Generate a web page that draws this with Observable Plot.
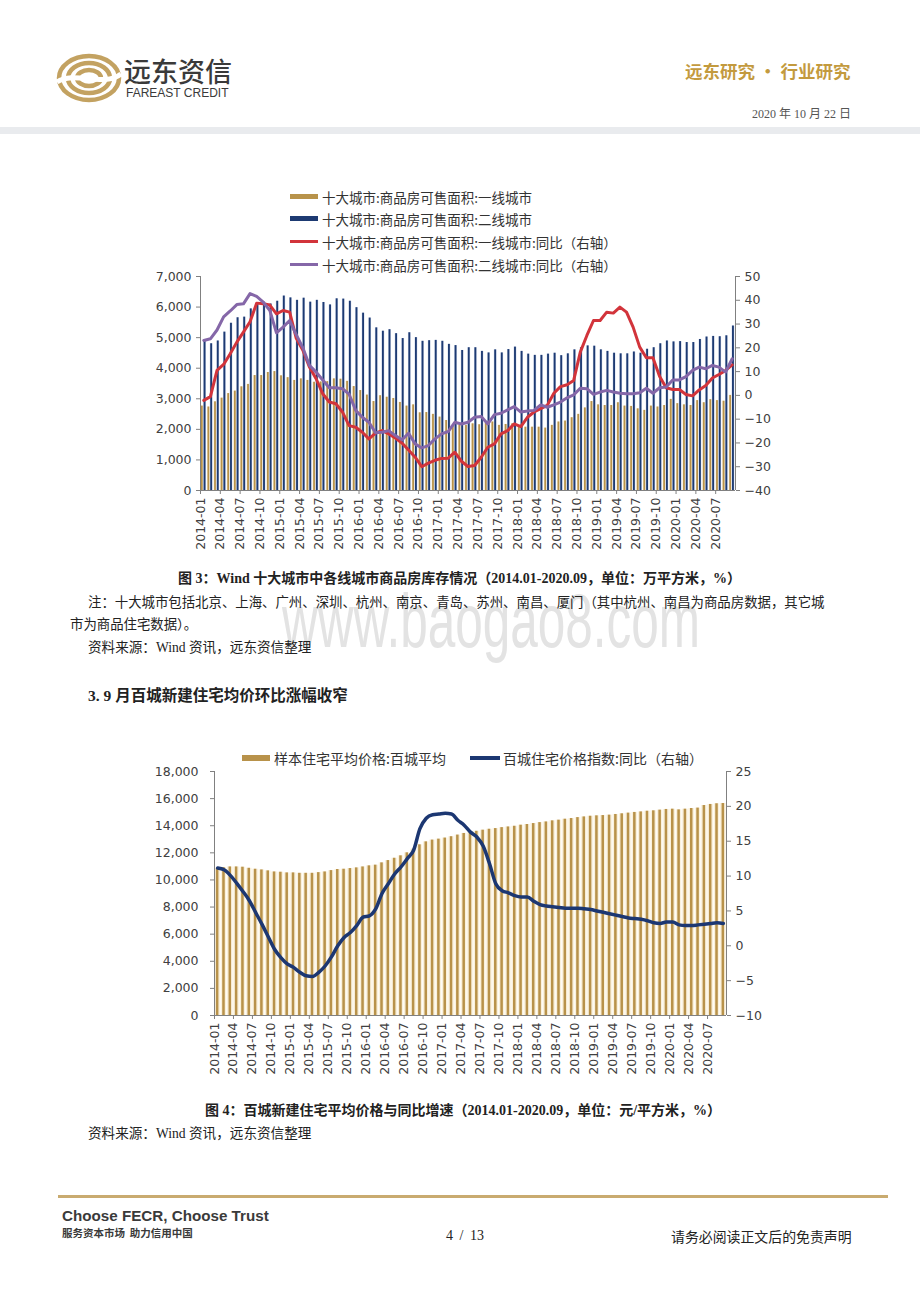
<!DOCTYPE html>
<html><head><meta charset="utf-8">
<script src="https://cdn.jsdelivr.net/npm/d3@7"></script>
<script src="https://cdn.jsdelivr.net/npm/@observablehq/plot@0.6"></script>
<style>
html,body{margin:0;padding:0;background:#fff;}
body{width:920px;height:1302px;position:relative;overflow:hidden;font-family:"Liberation Serif","Noto Sans CJK SC",serif;color:#222;}
.abs{position:absolute;white-space:nowrap;}
.cjk{font-family:"Noto Sans CJK SC","Liberation Sans",sans-serif;}
.leg{position:absolute;font-family:"Noto Sans CJK SC",sans-serif;font-size:13.5px;color:#333;line-height:16px;white-space:nowrap;}
.sw{position:absolute;}
</style></head><body>

<!-- header -->
<svg class="abs" style="left:55px;top:52px" width="70" height="52" viewBox="0 0 70 52">
  <g fill="none" stroke="#c3a261" stroke-width="4.5">
    <ellipse cx="34" cy="26" rx="30" ry="22"/>
    <ellipse cx="34" cy="26" rx="21" ry="15"/>
    <ellipse cx="34" cy="26" rx="12" ry="8"/>
  </g>
  <path d="M2 30 C 20 18, 48 36, 66 22" stroke="#fff" stroke-width="5" fill="none"/>
</svg>
<div class="abs cjk" style="left:124px;top:57px;font-size:27px;line-height:28px;color:#3a3a3a;font-weight:500">远东资信</div>
<div class="abs" style="left:126px;top:87px;font-family:'Liberation Sans',Arial,sans-serif;font-size:12px;line-height:13px;color:#3a3a3a;">FAREAST CREDIT</div>
<div class="abs cjk" style="left:685px;top:61px;font-size:17.5px;line-height:20px;color:#c39a3e;font-weight:700">远东研究 • 行业研究</div>
<div class="abs" style="left:752px;top:106px;font-size:12px;line-height:14px;color:#555;">2020 <span class="cjk">年</span> 10 <span class="cjk">月</span> 22 <span class="cjk">日</span></div>
<div class="abs" style="left:0;top:127px;width:920px;height:7px;background:#e9ebee"></div>

<!-- chart 1 legend -->
<div class="sw" style="left:290px;top:194px;width:28px;height:5px;background:#b8934a"></div>
<div class="leg" style="left:322px;top:189px">十大城市:商品房可售面积:一线城市</div>
<div class="sw" style="left:290px;top:216px;width:28px;height:5px;background:#1d3a72"></div>
<div class="leg" style="left:322px;top:211px">十大城市:商品房可售面积:二线城市</div>
<div class="sw" style="left:290px;top:240px;width:28px;height:3px;background:#d2343b"></div>
<div class="leg" style="left:322px;top:234px">十大城市:商品房可售面积:一线城市:同比（右轴）</div>
<div class="sw" style="left:290px;top:263px;width:28px;height:3px;background:#8567a8"></div>
<div class="leg" style="left:322px;top:257px">十大城市:商品房可售面积:二线城市:同比（右轴）</div>

<div id="c1" class="abs" style="left:140px;top:266px"></div>

<!-- watermark -->
<div id="wm" class="abs" style="left:282px;top:593px;font-family:'Liberation Sans',Arial,sans-serif;font-size:76px;line-height:56px;color:#e3e3e3;z-index:0;transform-origin:0 0">www.baogao8.com</div>

<div class="abs" style="left:178px;top:569px;font-size:14px;line-height:16px;font-weight:700;z-index:1"><span class="cjk">图</span> 3<span class="cjk">：</span>Wind <span class="cjk">十大城市中各线城市商品房库存情况（</span>2014.01-2020.09<span class="cjk">，单位：万平方米，</span>%<span class="cjk">）</span></div>
<div class="abs cjk" style="left:88px;top:592px;font-size:13.4px;line-height:18px;z-index:1;color:#222">注：十大城市包括北京、上海、广州、深圳、杭州、南京、青岛、苏州、南昌、厦门（其中杭州、南昌为商品房数据，其它城</div>
<div class="abs cjk" style="left:70px;top:614px;font-size:13.4px;line-height:18px;z-index:1;color:#222">市为商品住宅数据）。</div>
<div class="abs" style="left:88px;top:637px;font-size:13.6px;line-height:18px;z-index:1"><span class="cjk">资料来源：</span>Wind <span class="cjk">资讯，远东资信整理</span></div>
<div class="abs" style="left:88px;top:685px;font-size:15.5px;line-height:18px;font-weight:700;z-index:1">3. 9 <span class="cjk">月百城新建住宅均价环比涨幅收窄</span></div>

<!-- chart 2 legend -->
<div class="sw" style="left:242px;top:755px;width:28px;height:6px;background:#b8924a"></div>
<div class="leg" style="left:274px;top:750px;font-size:14px">样本住宅平均价格:百城平均</div>
<div class="sw" style="left:470px;top:756px;width:30px;height:4px;background:#1c3772"></div>
<div class="leg" style="left:503px;top:750px;font-size:14px">百城住宅价格指数:同比（右轴）</div>

<div id="c2" class="abs" style="left:150px;top:761px"></div>

<div class="abs" style="left:205px;top:1101px;font-size:14px;line-height:16px;font-weight:700"><span class="cjk">图</span> 4<span class="cjk">：百城新建住宅平均价格与同比增速（</span>2014.01-2020.09<span class="cjk">，单位：元</span>/<span class="cjk">平方米，</span>%<span class="cjk">）</span></div>
<div class="abs" style="left:88px;top:1123px;font-size:13.6px;line-height:18px"><span class="cjk">资料来源：</span>Wind <span class="cjk">资讯，远东资信整理</span></div>

<!-- footer -->
<div class="abs" style="left:58px;top:1195px;width:830px;height:3px;background:#c9ab70"></div>
<div class="abs" style="left:62px;top:1207px;font-family:'Liberation Sans',Arial,sans-serif;font-weight:700;font-size:15.2px;line-height:18px;color:#3a3a3a">Choose FECR, Choose Trust</div>
<div class="abs cjk" style="left:62px;top:1227px;font-size:10.5px;line-height:12px;font-weight:700;color:#3a3a3a">服务资本市场&nbsp;&nbsp;助力信用中国</div>
<div class="abs" style="left:446px;top:1228px;font-size:14px;line-height:16px;color:#222;word-spacing:3px">4 / 13</div>
<div class="abs cjk" style="left:671px;top:1227px;font-size:13.9px;line-height:18px;color:#222">请务必阅读正文后的免责声明</div>

<script>
// ---------- data ----------
const months = [];
for (let y = 2014; y <= 2020; y++) for (let m = 1; m <= 12; m++) {
  if (y === 2020 && m > 9) break;
  months.push(`${y}-${String(m).padStart(2, "0")}`);
}
// chart 1 : 十大城市商品房可售面积 (万平方米) and YoY (%)
const tier1Area = [2760,2730,2900,3020,3170,3250,3390,3470,3760,3760,
  3860,3890,3750,3690,3600,3650,3600,3540,3550,3560,
  3650,3640,3570,3400,3270,3120,2910,3100,3050,3010,
  2880,2760,2800,2540,2550,2490,2400,2290,2130,2130,
  2130,2180,2150,2200,2240,2130,2160,2180,2130,2070,
  2070,2070,2040,2130,2240,2270,2380,2490,2700,2910,
  2800,2780,2780,2870,2760,2750,2670,2620,2760,2730,
  2780,2980,2840,2800,2780,2940,2870,2970,2940,2920,3110];
const tier2Area = [4890,4800,4890,5180,5470,5650,5670,5940,6100,6160,
  6100,6190,6360,6300,6220,6290,6160,6220,6150,6070,
  6270,6260,6190,5980,5800,5640,5320,5210,5260,5130,
  4970,5160,5000,4880,4900,4910,4880,4780,4740,4580,
  4670,4670,4550,4500,4600,4500,4610,4690,4550,4460,
  4420,4420,4460,4490,4410,4470,4600,4670,4730,4720,
  4600,4550,4490,4470,4470,4530,4490,4620,4670,4800,
  4890,4860,4870,4840,4840,4940,5020,5040,5030,5060,5380];
const tier1Yoy = [-2.1,-0.5,10.5,13,17.5,22.4,26.6,31,38.8,38.5,
  38,34.3,35.7,35,24,19,11.9,7,0.7,-2.8,
  -3.5,-7,-12.7,-13.4,-15.5,-18.3,-15.9,-14.8,-16.2,-17.9,
  -20,-23,-26,-30,-28.5,-27.3,-26.5,-26.4,-23.9,-27.7,
  -29.9,-29.5,-26,-21.8,-20.4,-16.2,-14.8,-12,-13.1,-9.2,
  -7,-5.6,-4.2,0.9,3.7,4.5,6.3,18.2,25.2,31.5,
  31.5,35,34.6,37.1,35,28.7,20.3,15.8,15.8,8,
  3.2,2.5,2.5,0.4,-0.2,2.3,4.2,7.3,8.8,10.5,12.8];
const tier2Yoy = [23.1,23.8,27.5,33,35.5,38.2,38.5,42.8,41.6,39.2,
  35.7,26.3,28.7,31.5,25.5,20,12.6,9.8,6.5,3.2,
  3.2,2.8,0.5,-6.3,-9.2,-11.3,-15.7,-15.5,-14.8,-16.9,
  -18.7,-15.9,-20.4,-22.1,-21.1,-18.3,-16.2,-15.2,-11.3,-12,
  -11.3,-9.2,-8.9,-12,-8.1,-7.5,-6.1,-4.7,-7,-6.6,
  -6.3,-4,-5,-4,-2.8,-1,0.2,3,2.8,0.4,
  1.4,2.1,1.4,0.9,0.7,0.7,1.1,3,0.9,3.2,
  3.5,6.5,6.5,7.9,10.5,11.9,11.2,12.6,11.9,9.8,15.4];
const left1Ticks = [0,1000,2000,3000,4000,5000,6000,7000];
const right1Ticks = [-40,-30,-20,-10,0,10,20,30,40,50];

// chart 2 : 百城新建住宅平均价格 (元/平方米) and 百城住宅价格指数同比 (%)
const avgPrice = [10860,10910,10960,10960,10940,10860,10790,10740,10670,10590,
  10570,10520,10520,10490,10490,10490,10540,10590,10690,10770,
  10790,10840,10890,10960,11040,11090,11260,11430,11600,11780,
  12000,12270,12590,12810,12940,13010,13090,13190,13310,13430,
  13550,13590,13670,13740,13790,13860,13910,13960,14040,14090,
  14160,14230,14280,14360,14410,14480,14530,14600,14650,14700,
  14730,14750,14780,14830,14880,14930,14980,15020,15070,15100,
  15150,15200,15220,15170,15220,15270,15300,15490,15570,15620,15640];
const priceYoy = [11.15,10.9,10.1,9.0,7.8,6.5,4.8,3.1,1.3,-0.5,
  -1.7,-2.6,-3.1,-3.8,-4.3,-4.4,-3.8,-2.9,-1.6,0,
  1.2,1.9,2.9,4.1,4.3,5.3,7.5,8.9,10.3,11.3,
  12.5,13.7,16.8,18.3,18.8,18.9,19.0,18.9,18.0,17.3,
  16.3,15.6,14.3,11.8,8.9,7.9,7.6,7.2,7.0,7.0,
  6.4,5.9,5.7,5.6,5.5,5.4,5.4,5.4,5.3,5.2,
  5.0,4.8,4.6,4.4,4.2,4.0,3.9,3.8,3.6,3.3,
  3.2,3.4,3.4,3.0,2.9,2.9,3.0,3.1,3.2,3.3,3.2];
const left2Ticks = [0,2000,4000,6000,8000,10000,12000,14000,16000,18000];
const right2Ticks = [-10,-5,0,5,10,15,20,25];

const xTicks = d3.range(0, months.length, 3);

// ---------- helpers ----------
const GOLD = "#b8924a", GOLD_H = "#f1e4c4", NAVY = "#1d3a72", NAVY_H = "#cfd8ea";
const RED = "#d2343b", PURPLE = "#8567a8", LINE2 = "#1c3772";
const fmtComma = d3.format(",");
const fmtSigned = v => (v < 0 ? "\u2212" + Math.abs(v) : String(v));
const axisText = {fill: "#404040", stroke: "#808080"};
const N = months.length;

// right-axis values mapped onto left scale
const map1 = v => (v + 40) * 7000 / 90;
const unmap1 = d => Math.round(d * 90 / 7000 - 40);
const map2 = v => (v + 10) * 18000 / 35;
const unmap2 = d => Math.round(d * 35 / 18000 - 10);

const rows1 = months.map((m, i) => ({i, m, a1: tier1Area[i], a2: tier2Area[i], y1: map1(tier1Yoy[i]), y2: map1(tier2Yoy[i])}));
const rows2 = months.map((m, i) => ({i, m, p: avgPrice[i], y: map2(priceYoy[i])}));

const baseStyle = {fontFamily: "'DejaVu Sans', sans-serif", fontSize: "12.5px", background: "transparent", overflow: "visible"};

const chart1 = Plot.plot({
  width: 640, height: 300,
  marginLeft: 60, marginRight: 45, marginTop: 10, marginBottom: 76,
  x: {type: "linear", domain: [0, N]},
  y: {domain: [0, 7000]},
  style: baseStyle,
  marks: [
    Plot.rectY(rows1, {x1: d => d.i + 0.07, x2: d => d.i + 0.47, y: "a1", fill: GOLD_H}),
    Plot.rectY(rows1, {x1: d => d.i + 0.14, x2: d => d.i + 0.40, y: "a1", fill: GOLD}),
    Plot.rectY(rows1, {x1: d => d.i + 0.48, x2: d => d.i + 0.9, y: "a2", fill: NAVY_H}),
    Plot.rectY(rows1, {x1: d => d.i + 0.55, x2: d => d.i + 0.83, y: "a2", fill: NAVY}),
    Plot.line(rows1, {x: d => d.i + 0.5, y: "y1", stroke: RED, strokeWidth: 3}),
    Plot.line(rows1, {x: d => d.i + 0.5, y: "y2", stroke: PURPLE, strokeWidth: 3}),
    Plot.ruleX([0, N], {stroke: "#808080"}),
    Plot.ruleY([0], {stroke: "#808080"}),
    Plot.axisY(left1Ticks, {anchor: "left", tickSize: 4, tickPadding: 5, tickFormat: fmtComma, label: null, ...axisText}),
    Plot.axisY(right1Ticks.map(map1), {anchor: "right", tickSize: 4, tickPadding: 5, tickFormat: d => fmtSigned(unmap1(d)), label: null, ...axisText}),
    Plot.axisX(xTicks, {tickSize: 4, tickPadding: 3, tickRotate: -90, tickFormat: i => months[i], label: null, ...axisText})
  ]
});
document.getElementById("c1").append(chart1);

const chart2 = Plot.plot({
  width: 640, height: 330,
  marginLeft: 64, marginRight: 64, marginTop: 10, marginBottom: 76,
  x: {type: "linear", domain: [0, N]},
  y: {domain: [0, 18000]},
  style: baseStyle,
  marks: [
    Plot.rectY(rows2, {x1: d => d.i + 0.06, x2: d => d.i + 0.94, y: "p", fill: "#faf1dc"}),
    Plot.rectY(rows2, {x1: d => d.i + 0.3, x2: d => d.i + 0.7, y: "p", fill: GOLD}),
    Plot.line(rows2, {x: d => d.i + 0.5, y: "y", stroke: LINE2, strokeWidth: 3.5, curve: "monotone-x"}),
    Plot.ruleX([0, N], {stroke: "#808080"}),
    Plot.ruleY([0], {stroke: "#808080"}),
    Plot.axisY(left2Ticks, {anchor: "left", tickSize: 4, tickPadding: 12, tickFormat: fmtComma, label: null, ...axisText}),
    Plot.axisY(right2Ticks.map(map2), {anchor: "right", tickSize: 4, tickPadding: 5, tickFormat: d => fmtSigned(unmap2(d)), label: null, ...axisText}),
    Plot.axisX(xTicks, {tickSize: 4, tickPadding: 3, tickRotate: -90, tickFormat: i => months[i], label: null, ...axisText})
  ]
});
document.getElementById("c2").append(chart2);

// fit the watermark to its width in the page
const wm = document.getElementById("wm");
const w = wm.getBoundingClientRect().width;
wm.style.transform = `scaleX(${418 / w})`;
</script>
</body></html>
